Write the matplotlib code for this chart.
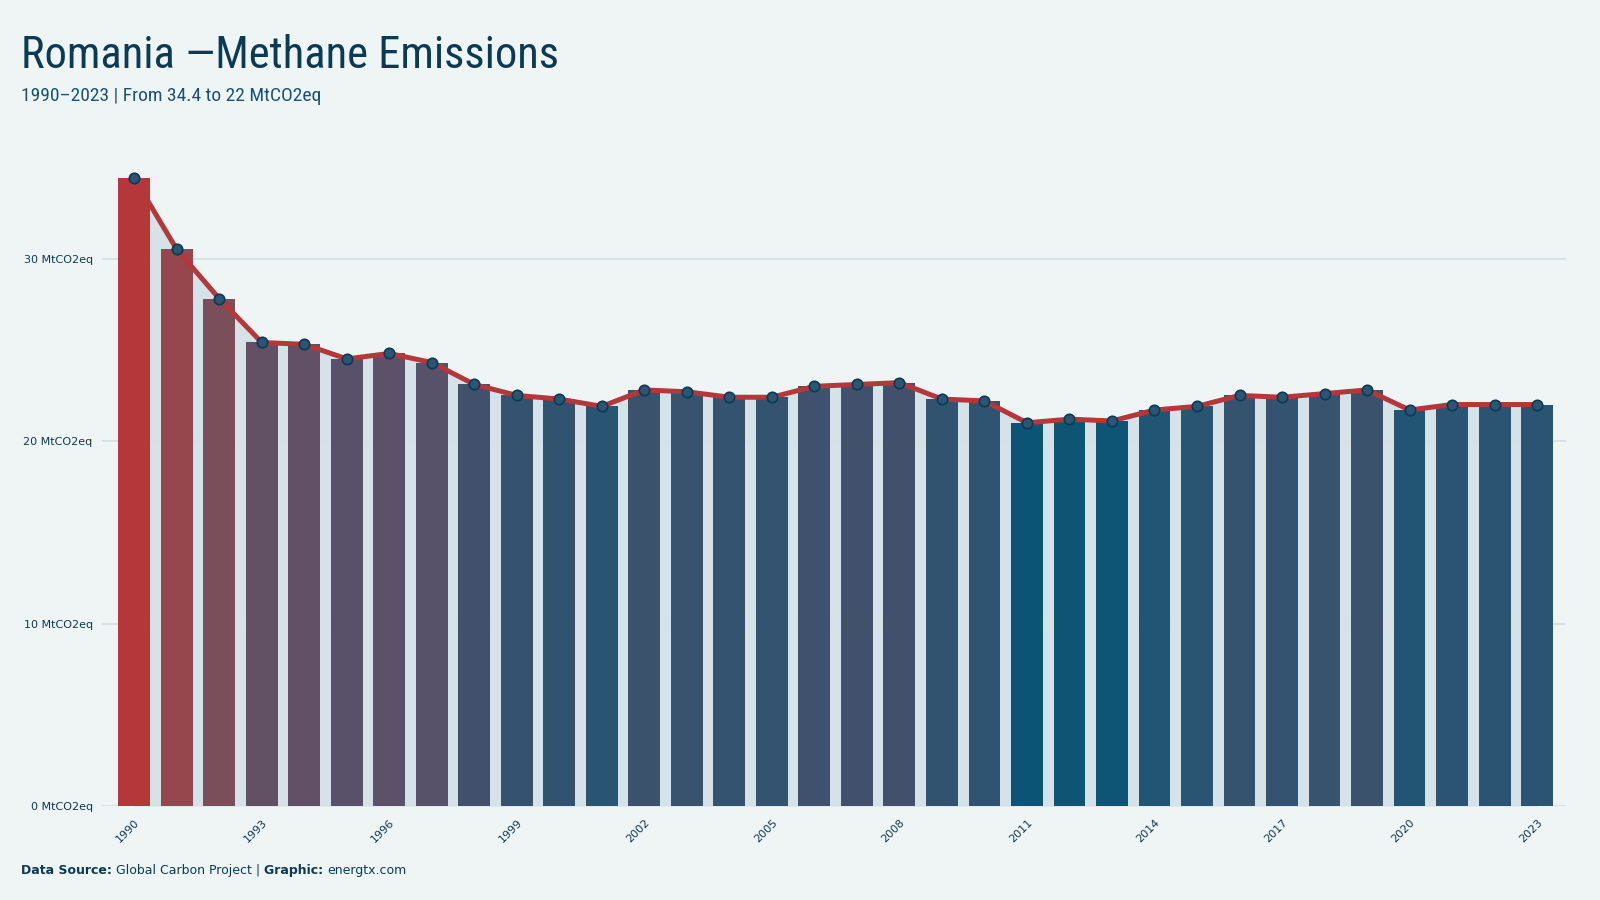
import matplotlib
matplotlib.use("Agg")
import matplotlib.pyplot as plt
from matplotlib.colors import LinearSegmentedColormap

# datos
years = list(range(1990, 2024))
emissions = [34.4, 30.5, 27.8, 25.4, 25.3, 24.5, 24.8, 24.3, 23.1, 22.5,
             22.3, 21.9, 22.8, 22.7, 22.4, 22.4, 23.0, 23.1, 23.2, 22.3,
             22.2, 21.0, 21.2, 21.1, 21.7, 21.9, 22.5, 22.4, 22.6, 22.8,
             21.7, 22.0, 22.0, 22.0]
tick_years = list(range(1990, 2024, 3))
tick_values = [0, 10, 20, 30]

# colores
bg = "#eff5f5"
navy = "#0b3a55"
red = "#b5373a"
grad = LinearSegmentedColormap.from_list("emis", [
    (0.00, "#0b5475"), (0.07, "#2a5472"), (0.11, "#35536f"),
    (0.16, "#42506b"), (0.25, "#58516a"), (0.32, "#615066"),
    (0.51, "#7b4f59"), (0.71, "#96464d"), (1.00, red)])

vmin, vmax = min(emissions), max(emissions)
bar_colors = [grad((v - vmin) / (vmax - vmin)) for v in emissions]

narrow = ["Ubuntu Condensed", "Roboto Condensed", "Liberation Sans Narrow",
          "DejaVu Sans"]

fig = plt.figure(figsize=(16, 9), dpi=100, facecolor=bg)
ax = fig.add_axes([0.064, 0.1044, 0.915, 0.73])
ax.set_facecolor(bg)

# area bajo la linea
ax.fill_between(years, emissions, 0, color="#d5e2e7", zorder=1, lw=0)
ax.bar(years, emissions, width=0.75, color=bar_colors, zorder=3)
ax.plot(years, emissions, color=red, lw=3.6, zorder=4, solid_capstyle="round")
ax.plot(years, emissions, ls="none", marker="o", ms=7.5, mfc="#2b5573",
        mec=navy, mew=1.2, zorder=5)

ax.set_xlim(1989.25, 2023.69)
ax.set_ylim(0, 36)
ax.set_axisbelow("line")
ax.grid(axis="y", color="#d6e1e5", lw=1.3)
ax.grid(axis="x", visible=False)
for s in ax.spines.values():
    s.set_visible(False)

ax.set_yticks(tick_values)
ax.set_yticklabels([f"{v} MtCO2eq" for v in tick_values])
ax.set_xticks(tick_years)
ax.set_xticklabels([str(y) for y in tick_years], rotation=45, ha="right",
                   rotation_mode="anchor")
ax.tick_params(axis="both", length=0, labelsize=8, labelcolor=navy)
ax.tick_params(axis="y", pad=7)
ax.tick_params(axis="x", pad=8)

# titulos
fig.text(0.013, 0.925, "Romania \u2014Methane Emissions", fontsize=32,
         color=navy, family=narrow, stretch="condensed", va="baseline")
fig.text(0.013, 0.888, "1990\u20132023 | From 34.4 to 22 MtCO2eq",
         fontsize=14, color="#1a5274", family=narrow, stretch="condensed",
         va="baseline")

# fuente, pieza por pieza
parts = [("Data Source: ", "bold"), ("Global Carbon Project | ", "normal"),
         ("Graphic: ", "bold"), ("energtx.com", "normal")]
renderer = fig.canvas.get_renderer()
x = 0.013 * 1600
for txt, w in parts:
    tt = fig.text(x / 1600, 0.029, txt, fontsize=9, color=navy,
                  fontweight=w, family="DejaVu Sans", va="baseline")
    x += tt.get_window_extent(renderer).width

fig.savefig("out.png", dpi=100, facecolor=bg)
